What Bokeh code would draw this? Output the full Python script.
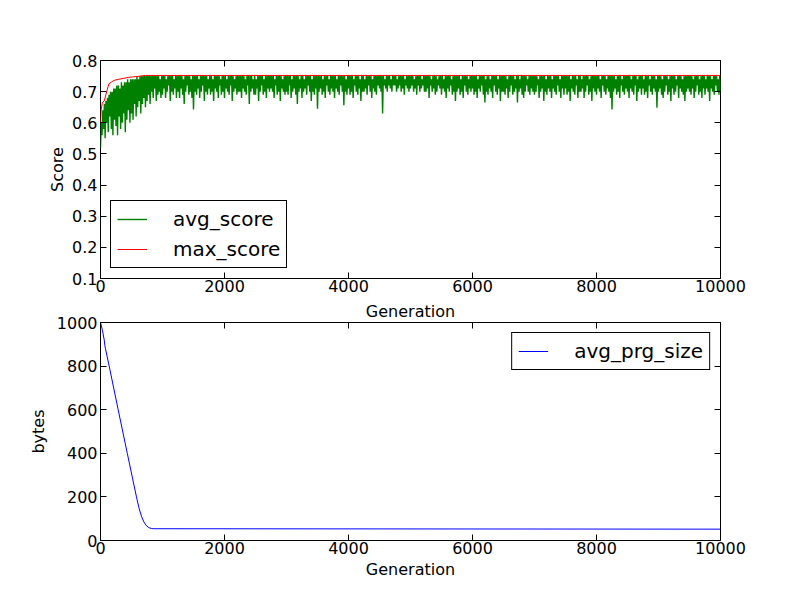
from bokeh.plotting import figure
from bokeh.layouts import column
from bokeh.models import LinearAxis, FixedTicker, Range1d, CustomJSTickFormatter
from bokeh.embed import file_html
from bokeh.resources import INLINE

FONT = "DejaVu Sans"

# avg_score, one value every 12.5 generations
avg_score = [
    0.52, 0.60, 0.56, 0.64, 0.58, 0.66, 0.55, 0.67, 0.60, 0.68, 0.57, 0.69, 0.62, 0.70, 0.58, 0.70, 0.56, 0.71, 0.61, 0.71,
    0.59, 0.72, 0.56, 0.72, 0.62, 0.71, 0.58, 0.73, 0.60, 0.72, 0.63, 0.73, 0.57, 0.73, 0.61, 0.74, 0.64, 0.73, 0.60, 0.74,
    0.63, 0.74, 0.61, 0.74, 0.66, 0.74, 0.62, 0.75, 0.65, 0.74, 0.67, 0.75, 0.63, 0.75, 0.66, 0.75, 0.68, 0.75, 0.65, 0.75,
    0.67, 0.75, 0.69, 0.75, 0.66, 0.75, 0.70, 0.75, 0.68, 0.75, 0.71, 0.75, 0.67, 0.75, 0.69, 0.75, 0.70, 0.74, 0.68, 0.75,
    0.69, 0.75, 0.71, 0.75, 0.68, 0.74, 0.70, 0.75, 0.72, 0.75, 0.67, 0.75, 0.70, 0.75, 0.69, 0.74, 0.71, 0.75, 0.68, 0.75,
    0.70, 0.75, 0.68, 0.75, 0.71, 0.75, 0.69, 0.74, 0.66, 0.75, 0.70, 0.75, 0.72, 0.75, 0.69, 0.75, 0.70, 0.74, 0.68, 0.75,
    0.643, 0.75, 0.70, 0.75, 0.69, 0.75, 0.71, 0.74, 0.68, 0.75, 0.70, 0.75, 0.72, 0.75, 0.67, 0.75, 0.70, 0.75, 0.69, 0.74,
    0.71, 0.75, 0.69, 0.75, 0.70, 0.74, 0.67, 0.75, 0.71, 0.75, 0.70, 0.75, 0.68, 0.75, 0.72, 0.74, 0.69, 0.75, 0.70, 0.75,
    0.68, 0.75, 0.71, 0.74, 0.70, 0.75, 0.69, 0.75, 0.72, 0.75, 0.67, 0.75, 0.70, 0.74, 0.71, 0.75, 0.69, 0.75, 0.70, 0.75,
    0.70, 0.75, 0.68, 0.75, 0.71, 0.75, 0.70, 0.74, 0.69, 0.75, 0.72, 0.75, 0.66, 0.75, 0.70, 0.75, 0.71, 0.74, 0.69, 0.75,
    0.69, 0.74, 0.71, 0.75, 0.67, 0.75, 0.70, 0.75, 0.72, 0.75, 0.69, 0.74, 0.70, 0.75, 0.68, 0.75, 0.71, 0.75, 0.70, 0.75,
    0.71, 0.75, 0.70, 0.75, 0.68, 0.74, 0.72, 0.75, 0.69, 0.75, 0.70, 0.75, 0.67, 0.75, 0.71, 0.74, 0.70, 0.75, 0.69, 0.75,
    0.70, 0.75, 0.69, 0.75, 0.72, 0.75, 0.68, 0.74, 0.70, 0.75, 0.71, 0.75, 0.69, 0.75, 0.66, 0.75, 0.70, 0.74, 0.71, 0.75,
    0.68, 0.75, 0.70, 0.74, 0.71, 0.75, 0.69, 0.75, 0.72, 0.75, 0.70, 0.75, 0.67, 0.74, 0.70, 0.75, 0.69, 0.75, 0.71, 0.75,
    0.645, 0.75, 0.70, 0.75, 0.71, 0.75, 0.69, 0.74, 0.70, 0.75, 0.68, 0.75, 0.72, 0.75, 0.70, 0.74, 0.69, 0.75, 0.71, 0.75,
    0.70, 0.75, 0.68, 0.75, 0.71, 0.74, 0.70, 0.75, 0.69, 0.75, 0.72, 0.75, 0.70, 0.75, 0.656, 0.75, 0.70, 0.74, 0.69, 0.75,
    0.71, 0.75, 0.69, 0.75, 0.70, 0.75, 0.68, 0.74, 0.72, 0.75, 0.70, 0.75, 0.69, 0.75, 0.71, 0.74, 0.67, 0.75, 0.70, 0.75,
    0.70, 0.74, 0.71, 0.75, 0.69, 0.75, 0.72, 0.75, 0.70, 0.75, 0.68, 0.74, 0.71, 0.75, 0.70, 0.75, 0.69, 0.75, 0.72, 0.75,
    0.71, 0.75, 0.70, 0.75, 0.63, 0.75, 0.72, 0.74, 0.71, 0.75, 0.70, 0.75, 0.72, 0.75, 0.71, 0.74, 0.70, 0.75, 0.72, 0.75,
    0.72, 0.75, 0.70, 0.74, 0.71, 0.75, 0.72, 0.75, 0.70, 0.75, 0.71, 0.75, 0.69, 0.74, 0.72, 0.75, 0.71, 0.75, 0.70, 0.75,
    0.71, 0.75, 0.72, 0.75, 0.70, 0.74, 0.71, 0.75, 0.69, 0.75, 0.72, 0.75, 0.70, 0.75, 0.71, 0.74, 0.72, 0.75, 0.70, 0.75,
    0.70, 0.75, 0.71, 0.75, 0.68, 0.75, 0.72, 0.74, 0.70, 0.75, 0.71, 0.75, 0.69, 0.75, 0.70, 0.74, 0.72, 0.75, 0.71, 0.75,
    0.69, 0.75, 0.71, 0.74, 0.70, 0.75, 0.68, 0.75, 0.71, 0.75, 0.70, 0.75, 0.72, 0.74, 0.69, 0.75, 0.70, 0.75, 0.67, 0.75,
    0.70, 0.75, 0.71, 0.75, 0.69, 0.74, 0.70, 0.75, 0.68, 0.75, 0.72, 0.75, 0.70, 0.75, 0.69, 0.74, 0.71, 0.75, 0.70, 0.75,
    0.71, 0.75, 0.69, 0.75, 0.70, 0.75, 0.68, 0.74, 0.71, 0.75, 0.70, 0.75, 0.72, 0.75, 0.69, 0.75, 0.665, 0.74, 0.70, 0.75,
    0.69, 0.75, 0.71, 0.74, 0.70, 0.75, 0.68, 0.75, 0.72, 0.75, 0.70, 0.75, 0.69, 0.74, 0.71, 0.75, 0.67, 0.75, 0.70, 0.75,
    0.70, 0.75, 0.69, 0.75, 0.71, 0.74, 0.68, 0.75, 0.70, 0.75, 0.72, 0.75, 0.69, 0.75, 0.70, 0.74, 0.71, 0.75, 0.665, 0.75,
    0.70, 0.74, 0.71, 0.75, 0.69, 0.75, 0.68, 0.75, 0.70, 0.75, 0.72, 0.74, 0.70, 0.75, 0.69, 0.75, 0.71, 0.75, 0.70, 0.75,
    0.69, 0.75, 0.70, 0.75, 0.72, 0.74, 0.68, 0.75, 0.70, 0.75, 0.71, 0.75, 0.67, 0.75, 0.70, 0.74, 0.69, 0.75, 0.71, 0.75,
    0.70, 0.75, 0.68, 0.74, 0.71, 0.75, 0.70, 0.75, 0.69, 0.75, 0.72, 0.75, 0.70, 0.74, 0.68, 0.75, 0.71, 0.75, 0.69, 0.75,
    0.71, 0.75, 0.69, 0.75, 0.70, 0.75, 0.67, 0.74, 0.71, 0.75, 0.70, 0.75, 0.69, 0.75, 0.72, 0.74, 0.68, 0.75, 0.70, 0.75,
    0.70, 0.74, 0.71, 0.75, 0.68, 0.75, 0.70, 0.75, 0.72, 0.75, 0.69, 0.74, 0.70, 0.75, 0.67, 0.75, 0.71, 0.75, 0.70, 0.75,
    0.69, 0.75, 0.71, 0.75, 0.70, 0.74, 0.68, 0.75, 0.72, 0.75, 0.70, 0.75, 0.69, 0.74, 0.71, 0.75, 0.70, 0.75, 0.68, 0.75,
    0.643, 0.75, 0.70, 0.75, 0.71, 0.74, 0.69, 0.75, 0.70, 0.75, 0.68, 0.75, 0.72, 0.74, 0.70, 0.75, 0.69, 0.75, 0.71, 0.75,
    0.70, 0.75, 0.68, 0.75, 0.71, 0.74, 0.70, 0.75, 0.69, 0.75, 0.72, 0.75, 0.67, 0.74, 0.70, 0.75, 0.71, 0.75, 0.69, 0.75,
    0.71, 0.74, 0.69, 0.75, 0.70, 0.75, 0.68, 0.75, 0.72, 0.74, 0.70, 0.75, 0.69, 0.75, 0.71, 0.75, 0.70, 0.74, 0.648, 0.75,
    0.70, 0.75, 0.71, 0.75, 0.69, 0.74, 0.68, 0.75, 0.70, 0.75, 0.72, 0.75, 0.69, 0.74, 0.70, 0.75, 0.67, 0.75, 0.71, 0.75,
    0.69, 0.75, 0.70, 0.74, 0.72, 0.75, 0.68, 0.75, 0.71, 0.75, 0.70, 0.74, 0.69, 0.75, 0.67, 0.75, 0.70, 0.75, 0.71, 0.75,
    0.70, 0.75, 0.69, 0.75, 0.71, 0.74, 0.68, 0.75, 0.70, 0.75, 0.72, 0.75, 0.69, 0.74, 0.70, 0.75, 0.68, 0.75, 0.71, 0.75,
    0.69, 0.74, 0.71, 0.75, 0.70, 0.75, 0.67, 0.75, 0.71, 0.74, 0.70, 0.75, 0.69, 0.75, 0.72, 0.75, 0.70, 0.74, 0.69, 0.75,
    0.70,
]
avg_gen = [12.5 * i for i in range(len(avg_score))]

max_gen = [0, 10, 30, 60, 100, 135, 215, 300, 456, 600, 726, 10000]
max_score = [0.60, 0.64, 0.665, 0.67, 0.70, 0.725, 0.736, 0.74, 0.746, 0.749, 0.752, 0.752]

size_gen = [0, 30, 60, 70, 80, 140, 285, 432, 580, 620, 660, 700, 740, 780, 820, 860, 10000]
avg_prg_size = [1000, 965, 920, 895, 880, 800, 600, 400, 200, 150, 112, 85, 68, 59, 55, 54, 52]

gen_ticks = [0, 2000, 4000, 6000, 8000, 10000]
score_ticks = [0.1, 0.2, 0.3, 0.4, 0.5, 0.6, 0.7, 0.8]
size_ticks = [0, 200, 400, 600, 800, 1000]


def make_fig(y_lo, y_hi, yticks, ylabel, border_top, border_bottom, ylabel_standoff):
    p = figure(frame_width=620, frame_height=218,
               x_range=Range1d(0, 10000), y_range=Range1d(y_lo, y_hi),
               output_backend="svg", toolbar_location=None,
               min_border_left=100, min_border_right=72,
               min_border_top=border_top, min_border_bottom=border_bottom,
               outline_line_color="black", outline_line_alpha=1)
    p.xgrid.visible = False
    p.ygrid.visible = False
    # mirrored ticks on top and right, like the classic style
    p.add_layout(LinearAxis(), "above")
    p.add_layout(LinearAxis(), "right")
    p.xaxis.ticker = FixedTicker(ticks=gen_ticks)
    p.yaxis.ticker = FixedTicker(ticks=yticks)
    for ax in p.axis:
        ax.axis_line_color = None
        ax.major_tick_in = 6
        ax.major_tick_out = 0
        ax.major_tick_line_color = "black"
        ax.minor_tick_line_color = None
        ax.major_label_text_font = FONT
        ax.major_label_text_font_size = "16px"
        ax.major_label_text_color = "black"
        ax.major_label_standoff = 3
        ax.axis_label_text_font = FONT
        ax.axis_label_text_font_size = "16px"
        ax.axis_label_text_font_style = "normal"
        ax.axis_label_text_color = "black"
    p.below[0].major_label_standoff = 1
    for ax in p.above + p.right:
        ax.formatter = CustomJSTickFormatter(code="return ''")
        ax.major_label_standoff = 0
    p.left[0].axis_label = ylabel
    p.left[0].axis_label_standoff = ylabel_standoff
    return p


def style_legend(p, loc):
    lg = p.legend[0]
    lg.location = loc
    lg.margin = 10
    lg.padding = 6
    lg.spacing = 6
    lg.glyph_width = 30
    lg.glyph_height = 20
    lg.label_height = 20
    lg.label_standoff = 26
    lg.label_text_font = FONT
    lg.label_text_font_size = "20px"
    lg.label_text_color = "black"
    lg.border_line_color = "black"
    lg.border_line_alpha = 1
    lg.border_line_width = 1
    lg.background_fill_alpha = 1


# top: score
p1 = make_fig(0.1, 0.8, score_ticks, "Score", 60, 20, 2)
p1.line(avg_gen, avg_score, line_color="#008000", line_width=1.4, legend_label="avg_score")
p1.line(max_gen, max_score, line_color="#ff0000", line_width=1, legend_label="max_score")
style_legend(p1, "bottom_left")

# bottom: program size; the title carries the top plot's x label
p2 = make_fig(0, 1000, size_ticks, "bytes", 24, 45, 6)
p2.title.text = "Generation"
p2.title.align = "center"
p2.title.text_font = FONT
p2.title.text_font_size = "16px"
p2.title.text_font_style = "normal"
p2.title.text_color = "black"
p2.title.standoff = 3
p2.below[0].axis_label = "Generation"
p2.below[0].axis_label_standoff = 3
p2.line(size_gen, avg_prg_size, line_color="#0000ff", line_width=1, legend_label="avg_prg_size")
style_legend(p2, "top_right")

page = column(p1, p2)
open("out.html", "w").write(file_html(page, INLINE))
